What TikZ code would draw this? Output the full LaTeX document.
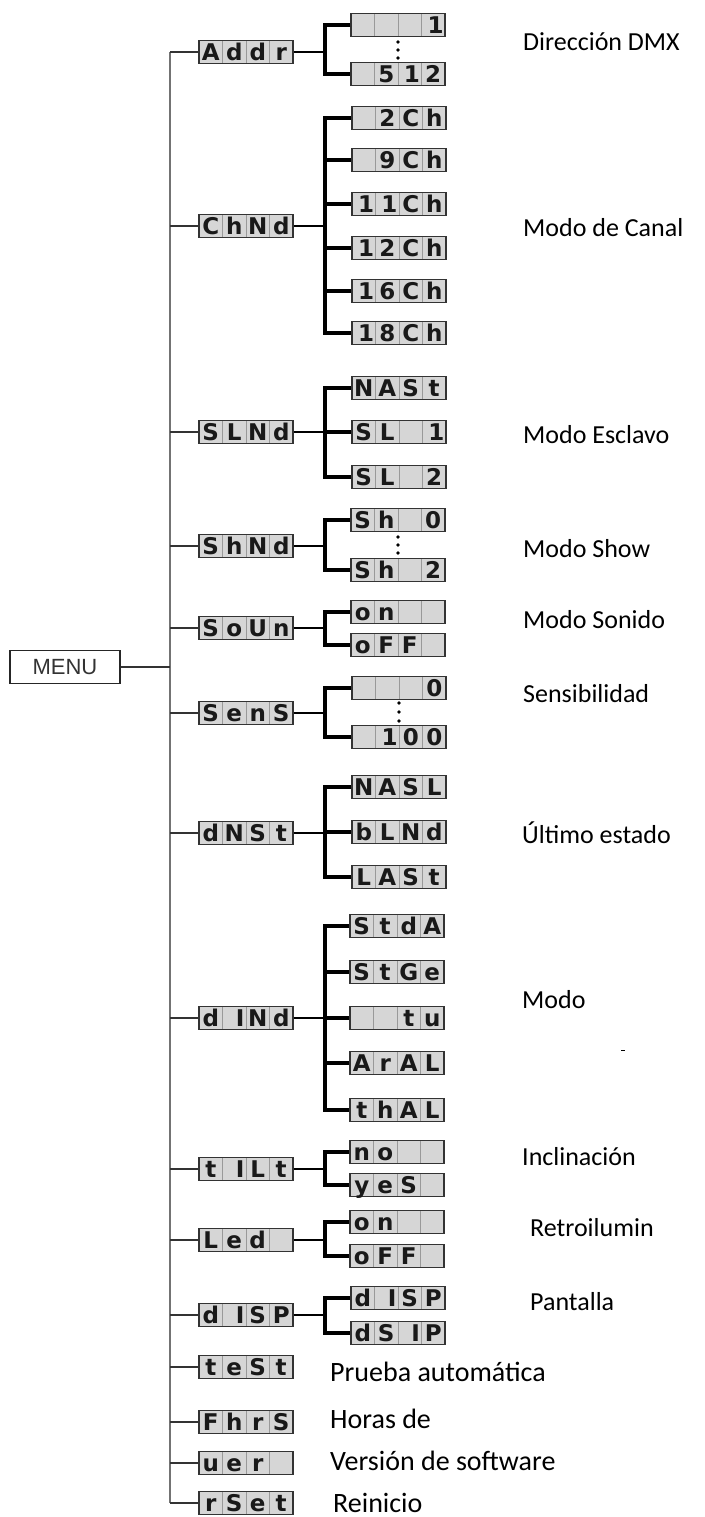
\documentclass[tikz,border=0pt]{standalone}
\usepackage{fontspec}
\setmainfont{Carlito}
\newfontfamily\lcdfamily{DejaVu Sans}
\newfontfamily\menufamily{Liberation Sans}
\usetikzlibrary{positioning}

% one display cell per character
\newcommand{\lcdcell}[1]{\makebox[23.5pt]{#1}}
\newcommand{\lcdtext}[4]{\lcdcell{#1}\lcdcell{#2}\lcdcell{#3}\lcdcell{#4}}
\newcommand{\rcell}[1]{\hfill#1\kern1.5pt}

\begin{document}
\begin{tikzpicture}[
  x=1pt, y=-1pt,
  lcd/.style={draw=black!80, line width=1.1pt, fill=black!16, text=black!90,
    minimum width=94pt, minimum height=23pt, inner sep=0pt,
    text height=16.5pt, text depth=0pt,
    font=\lcdfamily\bfseries\fontsize{23}{23}\selectfont,
    path picture={\foreach \k in {1,2,3}
      \draw[black!40, line width=0.8pt] ([xshift=\k*23.5pt]path picture bounding box.south west) -- ([xshift=\k*23.5pt]path picture bounding box.north west);}},
  menubox/.style={draw=black!85, line width=1.1pt, minimum width=110pt, minimum height=33pt,
    inner sep=0pt, text=black!80, font=\menufamily\fontsize{22}{22}\selectfont},
  note/.style={anchor=west, inner sep=0pt, font=\fontsize{26}{26}\selectfont},
  bignote/.style={note, font=\fontsize{28}{28}\selectfont},
  trunkline/.style={draw=black!55, line width=2pt},
  twig/.style={draw=black!80, line width=1.1pt},
  branch/.style={line width=2.6pt},
  bracket/.style={line width=3.2pt, line join=miter}
]
\useasboundingbox (0,0) rectangle (704,1517);
\coordinate (trunk) at (170,0);
\coordinate (fork) at (325,0);

% menu and first level
\node[menubox] (menuBox) at (65,667) {MENU};
\node[lcd] (addr) at (246,52) {\lcdtext{A}{d}{d}{r}};
\node[lcd] (chMode) at (246,226) {\lcdtext{C}{h}{N}{d}};
\node[lcd] (slaveMode) at (246,432) {\lcdtext{S}{L}{N}{d}};
\node[lcd] (showMode) at (246,546) {\lcdtext{S}{h}{N}{d}};
\node[lcd] (soundMode) at (246,628) {\lcdtext{S}{o}{U}{n}};
\node[lcd] (sens) at (246,713) {\lcdtext{S}{e}{n}{S}};
\node[lcd] (dmxState) at (246,833) {\lcdtext{d}{N}{S}{t}};
\node[lcd] (dimMode) at (246,1018) {\lcdtext{d}{\rcell{I}}{N}{d}};
\node[lcd] (tilt) at (246,1169) {\lcdtext{t}{\rcell{I}}{L}{t}};
\node[lcd] (ledMode) at (246,1240) {\lcdtext{L}{e}{d}{}};
\node[lcd] (dispMode) at (246,1315) {\lcdtext{d}{\rcell{I}}{S}{P}};
\node[lcd] (testMode) at (246,1367) {\lcdtext{t}{e}{S}{t}};
\node[lcd] (fixHours) at (246,1422) {\lcdtext{F}{h}{r}{S}};
\node[lcd] (version) at (246,1463) {\lcdtext{u}{e}{r}{}};
\node[lcd] (reset) at (246,1503) {\lcdtext{r}{S}{e}{t}};

% second level
\node[lcd] (addrFirst) at (398,25) {\lcdtext{}{}{}{\rcell{1}}};
\node[lcd] (addrLast) at (398,74) {\lcdtext{}{5}{\rcell{1}}{2}};
\node[lcd] (ch2) at (399,118) {\lcdtext{}{2}{C}{h}};
\node[lcd] (ch9) at (399,160) {\lcdtext{}{9}{C}{h}};
\node[lcd] (ch11) at (399,204) {\lcdtext{\rcell{1}}{\rcell{1}}{C}{h}};
\node[lcd] (ch12) at (399,248) {\lcdtext{\rcell{1}}{2}{C}{h}};
\node[lcd] (ch16) at (399,291) {\lcdtext{\rcell{1}}{6}{C}{h}};
\node[lcd] (ch18) at (399,333) {\lcdtext{\rcell{1}}{8}{C}{h}};
\node[lcd] (master) at (399,388) {\lcdtext{N}{A}{S}{t}};
\node[lcd] (slaveOne) at (399,432) {\lcdtext{S}{L}{}{\rcell{1}}};
\node[lcd] (slaveTwo) at (399,477) {\lcdtext{S}{L}{}{2}};
\node[lcd] (showFirst) at (398,520) {\lcdtext{S}{h}{}{0}};
\node[lcd] (showLast) at (398,570) {\lcdtext{S}{h}{}{2}};
\node[lcd] (soundOn) at (398,612) {\lcdtext{o}{n}{}{}};
\node[lcd] (soundOff) at (398,645) {\lcdtext{o}{F}{F}{}};
\node[lcd] (sensMin) at (399,688) {\lcdtext{}{}{}{0}};
\node[lcd] (sensMax) at (399,737) {\lcdtext{}{\rcell{1}}{0}{0}};
\node[lcd] (holdMaster) at (399,787) {\lcdtext{N}{A}{S}{L}};
\node[lcd] (holdBlind) at (399,832) {\lcdtext{b}{L}{N}{d}};
\node[lcd] (holdLast) at (399,877) {\lcdtext{L}{A}{S}{t}};
\node[lcd] (dimStd) at (397,926) {\lcdtext{S}{t}{d}{A}};
\node[lcd] (dimStage) at (397,972) {\lcdtext{S}{t}{G}{e}};
\node[lcd] (dimTv) at (397,1018) {\lcdtext{}{}{t}{u}};
\node[lcd] (dimArch) at (397,1063) {\lcdtext{A}{r}{A}{L}};
\node[lcd] (dimTheatre) at (397,1110) {\lcdtext{t}{h}{A}{L}};
\node[lcd] (tiltNo) at (397,1152) {\lcdtext{n}{o}{}{}};
\node[lcd] (tiltYes) at (397,1185) {\lcdtext{y}{e}{S}{}};
\node[lcd] (ledOn) at (397,1222) {\lcdtext{o}{n}{}{}};
\node[lcd] (ledOff) at (397,1256) {\lcdtext{o}{F}{F}{}};
\node[lcd] (dispNormal) at (398,1298) {\lcdtext{d}{\rcell{I}}{S}{P}};
\node[lcd] (dispFlip) at (398,1333) {\lcdtext{d}{S}{\rcell{I}}{P}};

% descriptions
\node[note] (addrNote) at (523,42) {Dirección DMX};
\node[note] (chNote) at (523,228) {Modo de Canal};
\node[note] (slaveNote) at (523,435) {Modo Esclavo};
\node[note] (showNote) at (523,549) {Modo Show};
\node[note] (soundNote) at (523,620) {Modo Sonido};
\node[note] (sensNote) at (523,694) {Sensibilidad};
\node[note] (stateNote) at (522,833) {Último estado};
\node[note] (dimNote) at (522,1000) {Modo};
\node[note] (tiltNote) at (522,1157) {Inclinación};
\node[note] (ledNote) at (530,1228) {Retroilumin};
\node[note] (dispNote) at (530,1302) {Pantalla};
\node[bignote] (testNote) at (330,1372) {Prueba automática};
\node[bignote] (hoursNote) at (330,1419) {Horas de};
\node[bignote] (versionNote) at (330,1461) {Versión de software};
\node[bignote] (resetNote) at (333,1503) {Reinicio};
\draw[line width=1pt] (621,1050) -- (625,1050);

% trunk
\draw[trunkline] (trunk |- addr.west) -- (trunk |- reset.west);
\draw[twig] (menuBox.east) -- (trunk |- menuBox.east);
\foreach \m in {addr,chMode,slaveMode,showMode,soundMode,sens,dmxState,dimMode,tilt,ledMode,dispMode,testMode,fixHours,version,reset}
  \draw[twig] (trunk |- \m.west) -- (\m.west);

% brackets
\foreach \m in {addr,chMode,slaveMode,showMode,soundMode,sens,dmxState,dimMode,tilt,ledMode,dispMode}
  \draw[branch] (\m.east) -- (fork |- \m.east);
\draw[bracket] (addrFirst.west) -- (fork |- addrFirst.west) -- (fork |- addrLast.west) -- (addrLast.west);
\draw[bracket] (ch2.west) -- (fork |- ch2.west) -- (fork |- ch18.west) -- (ch18.west);
\foreach \c in {ch9,ch11,ch12,ch16}
  \draw[bracket] (fork |- \c.west) -- (\c.west);
\draw[bracket] (master.west) -- (fork |- master.west) -- (fork |- slaveTwo.west) -- (slaveTwo.west);
\draw[bracket] (fork |- slaveOne.west) -- (slaveOne.west);
\draw[bracket] (showFirst.west) -- (fork |- showFirst.west) -- (fork |- showLast.west) -- (showLast.west);
\draw[bracket] (soundOn.west) -- (fork |- soundOn.west) -- (fork |- soundOff.west) -- (soundOff.west);
\draw[bracket] (sensMin.west) -- (fork |- sensMin.west) -- (fork |- sensMax.west) -- (sensMax.west);
\draw[bracket] (holdMaster.west) -- (fork |- holdMaster.west) -- (fork |- holdLast.west) -- (holdLast.west);
\draw[bracket] (fork |- holdBlind.west) -- (holdBlind.west);
\draw[bracket] (dimStd.west) -- (fork |- dimStd.west) -- (fork |- dimTheatre.west) -- (dimTheatre.west);
\foreach \c in {dimStage,dimTv,dimArch}
  \draw[bracket] (fork |- \c.west) -- (\c.west);
\draw[bracket] (tiltNo.west) -- (fork |- tiltNo.west) -- (fork |- tiltYes.west) -- (tiltYes.west);
\draw[bracket] (ledOn.west) -- (fork |- ledOn.west) -- (fork |- ledOff.west) -- (ledOff.west);
\draw[bracket] (dispNormal.west) -- (fork |- dispNormal.west) -- (fork |- dispFlip.west) -- (dispFlip.west);

% ellipsis dots
\foreach \d in {42,50,58} \fill (398,\d) circle (1.8);
\foreach \d in {537,545,553} \fill (398,\d) circle (1.8);
\foreach \d in {703,712,721} \fill (399,\d) circle (1.8);
\end{tikzpicture}
\end{document}
